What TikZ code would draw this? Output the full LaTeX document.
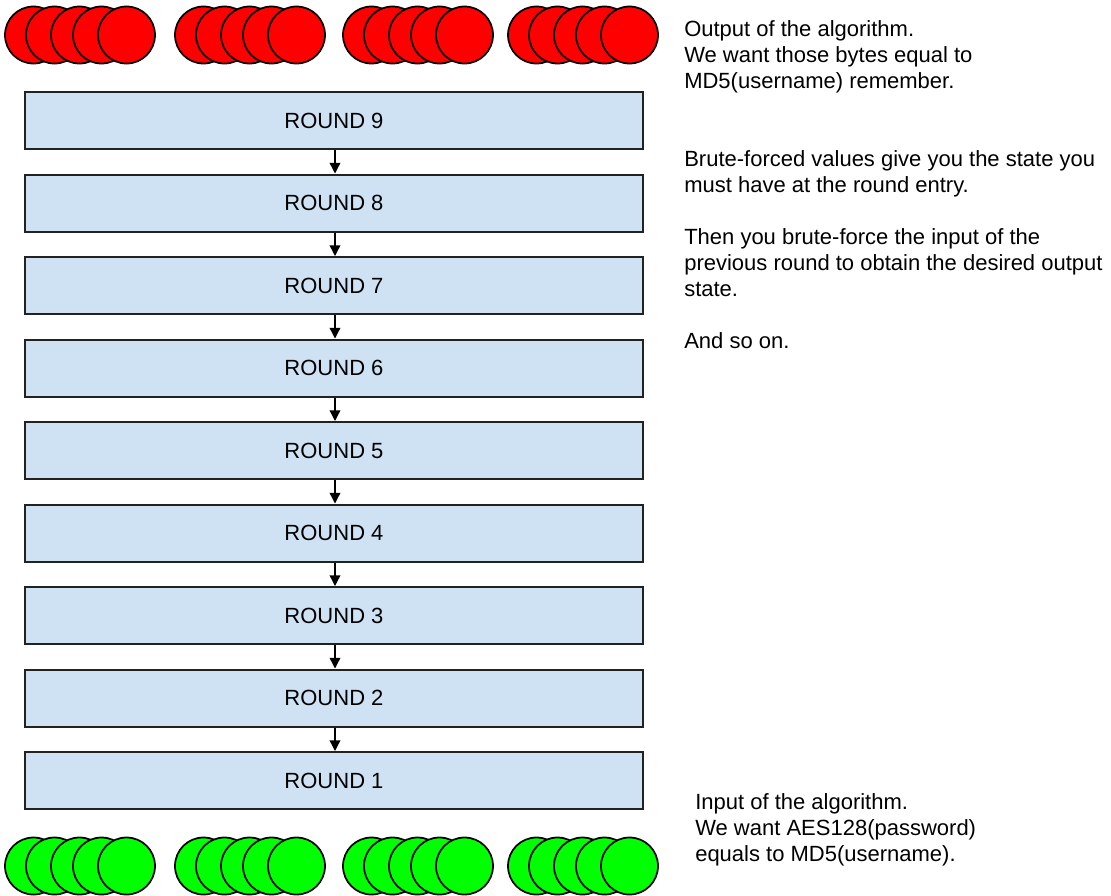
\documentclass[tikz,border=0pt]{standalone}
\usepackage{fontspec}
\setmainfont{Liberation Sans}
\usetikzlibrary{arrows.meta}
\definecolor{boxfill}{HTML}{CFE2F3}
\definecolor{boxline}{HTML}{222222}
\definecolor{redball}{HTML}{FF0000}
\definecolor{greenball}{HTML}{00FF00}
\tikzset{
  roundbox/.style={draw=boxline, line width=1.5pt, fill=boxfill, rectangle,
    minimum width=463.5pt, minimum height=42.75pt, inner sep=0pt,
    font=\fontsize{16.5}{19.5}\selectfont},
  ball/.style={circle, draw=black, line width=1.3pt, minimum size=42.75pt, inner sep=0pt},
  redb/.style={ball, fill=redball},
  greenb/.style={ball, fill=greenball},
  flow/.style={line width=1pt, -{Triangle[width=8pt,length=8pt]}},
  note/.style={anchor=north west, inner sep=0pt, align=left,
    font=\fontsize{16.5}{19.5}\selectfont}
}
\begin{document}
\begin{tikzpicture}[x=0.75pt,y=-0.75pt]
\useasboundingbox (0,0) rectangle (1111,896);
% balls
\foreach \g/\gx in {1/5,2/175,3/343,4/508}{
  \foreach \i/\o in {1/0,2/21,3/46,4/68,5/93}{
    \node[redb] (r\g\i) at ({\gx+\o+28.5},35) {};
  }
  \foreach \i/\o in {1/0,2/21,3/46,4/68,5/93}{
    \node[greenb] (g\g\i) at ({\gx+\o+28.5},866) {};
  }
}
% rounds
\foreach \n in {9,8,...,1}{
  \node[roundbox] (R\n) at (334,{92+28.5+82.5*(9-\n)}) {ROUND \n};
}
\foreach \a/\b in {9/8,8/7,7/6,6/5,5/4,4/3,3/2,2/1}{
  \draw[flow] ([xshift=0.75pt]R\a.south) -- ([xshift=0.75pt]R\b.north);
}
% notes
\node[note] (t1) at (684,20) {Output of the algorithm.\\We want those bytes equal to\\MD5(username) remember.};
\node[note] (t2) at (684,150) {Brute-forced values give you the state you\\must have at the round entry.\\[19.5pt]Then you brute-force the input of the\\previous round to obtain the desired output\\state.\\[19.5pt]And so on.};
\node[note] (t3) at (695,793) {Input of the algorithm.\\We want AES128(password)\\equals to MD5(username).};
\end{tikzpicture}
\end{document}
